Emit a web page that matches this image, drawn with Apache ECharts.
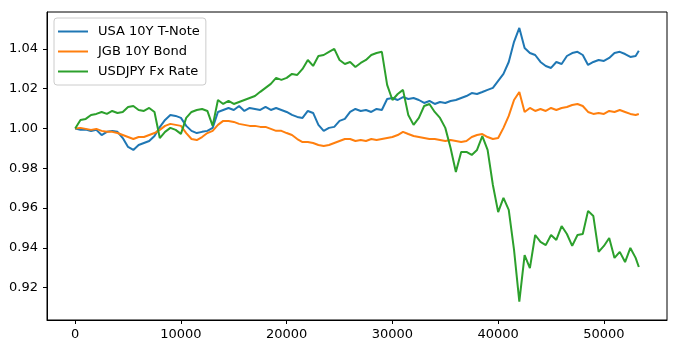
<!DOCTYPE html>
<html>
<head>
<meta charset="utf-8">
<script src="https://cdn.jsdelivr.net/npm/echarts@6/dist/echarts.min.js"></script>
<style>
html,body{margin:0;padding:0;background:#fff;}
#chart{width:682px;height:360px;}
</style>
</head>
<body>
<div id="chart"></div>
<script>
// Sample index (x) positions, every 500 observations, last observation at 53300
const xIndex = [];
for (let i = 0; i <= 106; i++) xIndex.push(i * 500);
xIndex.push(53300);

const seriesNames = ['USA 10Y T-Note', 'JGB 10Y Bond', 'USDJPY Fx Rate'];

const usaNote = [
1.0000,0.9993,0.9995,0.9987,0.9993,0.9967,0.9983,0.9988,0.9983,0.9952,
0.9907,0.9892,0.9917,0.9927,0.9937,0.9962,1.0007,1.0043,1.0068,1.0063,
1.0053,1.0013,0.9988,0.9977,0.9983,0.9988,1.0003,1.0083,1.0093,1.0103,
1.0093,1.0113,1.0088,1.0103,1.0098,1.0093,1.0108,1.0093,1.0103,1.0093,
1.0083,1.0068,1.0058,1.0053,1.0088,1.0078,1.0018,0.9988,1.0003,1.0008,
1.0038,1.0048,1.0083,1.0098,1.0088,1.0093,1.0083,1.0098,1.0093,1.0148,
1.0153,1.0143,1.0158,1.0148,1.0153,1.0143,1.0128,1.0138,1.0123,1.0133,
1.0128,1.0138,1.0143,1.0153,1.0163,1.0178,1.0173,1.0183,1.0194,1.0204,
1.0239,1.0274,1.0334,1.0435,1.0505,1.0404,1.0379,1.0369,1.0334,1.0314,
1.0304,1.0334,1.0324,1.0364,1.0379,1.0385,1.0369,1.0319,1.0334,1.0344,
1.0339,1.0354,1.0379,1.0385,1.0374,1.0359,1.0364,1.0390
];

const jgbBond = [
1.0000,1.0003,0.9998,0.9993,0.9998,0.9988,0.9983,0.9983,0.9977,0.9967,
0.9957,0.9947,0.9957,0.9957,0.9967,0.9977,0.9993,1.0013,1.0023,1.0018,
1.0013,0.9977,0.9947,0.9942,0.9957,0.9977,0.9988,1.0018,1.0038,1.0038,
1.0033,1.0023,1.0018,1.0013,1.0013,1.0008,1.0008,0.9998,0.9988,0.9988,
0.9977,0.9967,0.9947,0.9932,0.9932,0.9927,0.9917,0.9912,0.9917,0.9927,
0.9937,0.9947,0.9947,0.9937,0.9942,0.9937,0.9947,0.9942,0.9947,0.9952,
0.9957,0.9967,0.9983,0.9972,0.9962,0.9957,0.9952,0.9947,0.9947,0.9942,
0.9937,0.9942,0.9937,0.9932,0.9937,0.9957,0.9967,0.9972,0.9957,0.9947,
0.9952,1.0003,1.0063,1.0143,1.0183,1.0083,1.0103,1.0088,1.0098,1.0088,
1.0103,1.0093,1.0103,1.0108,1.0118,1.0123,1.0113,1.0083,1.0073,1.0078,
1.0073,1.0088,1.0083,1.0093,1.0083,1.0073,1.0068,1.0073
];

const usdJpy = [
1.0000,1.0043,1.0048,1.0068,1.0073,1.0083,1.0073,1.0088,1.0078,1.0083,
1.0108,1.0113,1.0093,1.0088,1.0103,1.0083,0.9952,0.9983,1.0003,0.9993,
0.9973,1.0053,1.0083,1.0093,1.0098,1.0088,1.0013,1.0143,1.0123,1.0138,
1.0123,1.0133,1.0143,1.0153,1.0163,1.0184,1.0204,1.0224,1.0254,1.0244,
1.0254,1.0274,1.0269,1.0299,1.0344,1.0314,1.0364,1.0369,1.0385,1.0400,
1.0344,1.0324,1.0334,1.0309,1.0329,1.0344,1.0369,1.0379,1.0385,1.0219,
1.0143,1.0173,1.0194,1.0068,1.0018,1.0053,1.0113,1.0123,1.0083,1.0053,
1.0003,0.9902,0.9781,0.9882,0.9882,0.9867,0.9892,0.9962,0.9892,0.9716,
0.9580,0.9651,0.9591,0.9390,0.9130,0.9364,0.9299,0.9465,0.9430,0.9414,
0.9465,0.9440,0.9510,0.9470,0.9410,0.9465,0.9470,0.9586,0.9560,0.9380,
0.9410,0.9450,0.9350,0.9380,0.9329,0.9400,0.9350,0.9304
];

const colors = ['#1f77b4', '#ff7f0e', '#2ca02c'];
const values = [usaNote, jgbBond, usdJpy];

const font = 'DejaVu Sans';
const chart = echarts.init(document.getElementById('chart'), null, {renderer: 'canvas'});

chart.setOption({
  animation: false,
  backgroundColor: '#ffffff',
  grid: {
    left: 47, right: 15, top: 12, bottom: 40,
    containLabel: false,
    outerBoundsMode: 'none',
    show: true, borderColor: '#000', borderWidth: 1, backgroundColor: 'transparent'
  },
  legend: {
    orient: 'vertical',
    left: 54, top: 18,
    padding: [6, 6, 6, 4],
    itemGap: 5,
    itemWidth: 30,
    itemHeight: 2,
    icon: 'rect',
    borderColor: '#cccccc', borderWidth: 1, borderRadius: 3,
    backgroundColor: 'rgba(255,255,255,0.8)',
    textStyle: {fontSize: 13, lineHeight: 15, color: '#000', fontFamily: font, padding: [0, 0, 0, 5]},
    data: seriesNames.map((n, k) => ({name: n, itemStyle: {color: colors[k]}}))
  },
  xAxis: {
    type: 'value',
    min: -2665, max: 55965,
    splitNumber: 5,
    splitLine: {show: false},
    axisLine: {show: true, onZero: false, lineStyle: {color: '#000', width: 1}},
    axisTick: {show: true, inside: false, length: 4, lineStyle: {color: '#000'}},
    axisLabel: {
      color: '#000', fontSize: 13, fontFamily: font, margin: 8,
      showMinLabel: false, showMaxLabel: false,
      formatter: v => String(v)
    }
  },
  yAxis: {
    type: 'value',
    min: 0.9038, max: 1.0585,
    splitNumber: 7,
    splitLine: {show: false},
    axisLine: {show: true, onZero: false, lineStyle: {color: '#000', width: 1}},
    axisTick: {show: true, inside: false, length: 4, lineStyle: {color: '#000'}},
    axisLabel: {
      color: '#000', fontSize: 13, fontFamily: font, margin: 9,
      showMinLabel: false, showMaxLabel: false,
      formatter: v => v.toFixed(2)
    }
  },
  series: seriesNames.map((name, k) => ({
    name: name,
    type: 'line',
    symbol: 'none',
    showSymbol: false,
    color: colors[k],
    lineStyle: {color: colors[k], width: 2},
    data: xIndex.map((x, i) => [x, values[k][i]]),
    z: 2 + k
  }))
});
</script>
</body>
</html>
